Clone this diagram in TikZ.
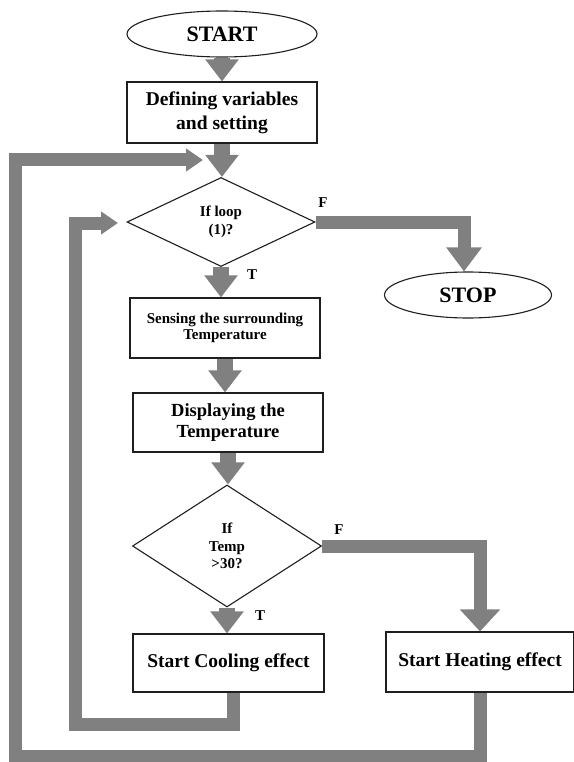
\documentclass[tikz,border=0pt]{standalone}
\usepackage{fontspec}
\setmainfont{Liberation Serif}
\usetikzlibrary{shapes.geometric,arrows.meta}
\definecolor{arrowgray}{RGB}{128,128,128}
\definecolor{edgeblack}{RGB}{30,30,30}
\begin{document}
\begin{tikzpicture}[x=1pt,y=-1pt,
  box/.style={draw=edgeblack,line width=1.1pt,inner sep=0pt,align=center,rectangle},
  oval/.style={draw=edgeblack,line width=1.1pt,inner sep=0pt,ellipse},
  decision/.style={draw=edgeblack,line width=1.1pt,inner sep=0pt,diamond,align=center},
  flowarrow/.style={draw=arrowgray,line width=16pt,-{Triangle[width=32pt,length=22pt]}},
  branch/.style={draw=arrowgray,line width=13pt,-{Triangle[width=34pt,length=24pt]}},
  looparrow/.style={draw=arrowgray,line width=13pt,-{Triangle[width=22pt,length=17pt]}},
  loopline/.style={draw=arrowgray,line width=13pt},
  lbl/.style={font=\fontsize{15}{15}\selectfont\bfseries,inner sep=0pt},
  big/.style={font=\fontsize{22}{24}\selectfont\bfseries},
  mid/.style={font=\fontsize{19.5}{24}\selectfont\bfseries},
]
\useasboundingbox (0,0) rectangle (573,762);

% nodes
\node[oval,big,minimum width=190pt,minimum height=46pt] (start) at (222,34) {START};
\node[box,mid,minimum width=190pt,minimum height=61pt] (def) at (222,112.5) {Defining variables\\and setting};
\node[decision,font=\fontsize{15}{18}\selectfont\bfseries,minimum width=188pt,minimum height=89pt] (dia1) at (221,222) {If loop\\(1)?};
\node[oval,big,minimum width=167pt,minimum height=46pt] (stop) at (468,295) {STOP};
\node[box,font=\fontsize{15}{16.5}\selectfont\bfseries,minimum width=190pt,minimum height=60pt] (sens) at (225,328) {Sensing the surrounding\\Temperature};
\node[box,font=\fontsize{18.5}{20.5}\selectfont\bfseries,minimum width=190pt,minimum height=59pt] (disp) at (228,422.5) {Displaying the\\Temperature};
\node[decision,font=\fontsize{15}{17.5}\selectfont\bfseries,minimum width=189pt,minimum height=122pt] (dia2) at (227,546) {If\\Temp\\>30?};
\node[box,mid,minimum width=191pt,minimum height=58pt] (cool) at (228.5,663) {Start Cooling effect};
\node[box,mid,minimum width=188pt,minimum height=60pt] (heat) at (480,662) {Start Heating effect};

% labels
\node[lbl] (f1) at (323,203) {F};
\node[lbl] (t1) at (252,275) {T};
\node[lbl] (f2) at (339,530) {F};
\node[lbl] (t2) at (260,616) {T};

% straight arrows
\draw[flowarrow] (start.south) -- (def.north);
\draw[flowarrow] (def.south) -- (def.south |- dia1.north);
\draw[flowarrow] (dia1.south) -- (dia1.south |- sens.north);
\draw[flowarrow] (sens.south) -- (sens.south |- disp.north);
\draw[flowarrow] (disp.south) -- (disp.south |- dia2.north);
\draw[flowarrow] (dia2.south) -- (dia2.south |- cool.north);

% false branches
\draw[branch] (dia1.east) -| ([xshift=-4pt]stop.north);
\draw[branch,-{Triangle[width=39pt,length=22pt]}] (dia2.east) -| (heat.north);

% loops
\coordinate (innerBR) at (233,724);
\coordinate (innerBL) at (75,724);
\coordinate (innerTL) at (75,223);
\coordinate (innerTip) at (118,223);
\draw[looparrow] (cool.south -| innerBR) -- (innerBR) -- (innerBL) -- (innerTL) -- (innerTip);

\coordinate (outerBR) at (480,756);
\coordinate (outerBL) at (15,756);
\coordinate (outerTL) at (15,160);
\coordinate (outerTip) at (203,160);
\draw[looparrow] (heat.south -| outerBR) -- (outerBR) -- (outerBL) -- (outerTL) -- (outerTip);
\end{tikzpicture}
\end{document}
